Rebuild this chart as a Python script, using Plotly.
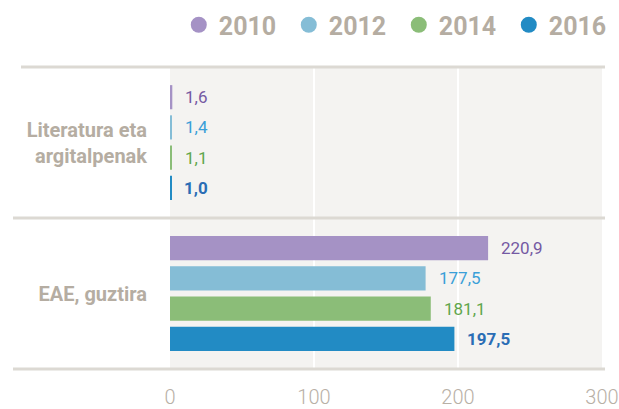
import plotly.graph_objects as go

# Data
categories = ["Literatura eta<br>argitalpenak", "EAE, guztira"]
years = ["2010", "2012", "2014", "2016"]
values = {
    "2010": [1.6, 220.9],
    "2012": [1.4, 177.5],
    "2014": [1.1, 181.1],
    "2016": [1.0, 197.5],
}
x_ticks = [0, 100, 200, 300]

# Styling
bar_colors = {"2010": "#a592c5", "2012": "#85bdd6", "2014": "#8bbd78", "2016": "#228bc4"}
label_colors = {"2010": "#7459a3", "2012": "#3a9fd8", "2014": "#5fa64b", "2016": "#2a6db5"}
grey_text = "#b5ada2"
rule_color = "#dcd9d3"
FONT = "Roboto, sans-serif"

W, H = 619, 409
M_L, M_R, M_T, M_B = 170, 17, 67, 40
plot_w = W - M_L - M_R
plot_h = H - M_T - M_B


def fmt(v):
    return f"{v:.1f}".replace(".", ",")


fig = go.Figure()

for yr in years:
    fig.add_trace(go.Bar(
        y=categories,
        x=values[yr],
        orientation="h",
        name=yr,
        marker=dict(color=bar_colors[yr], line=dict(width=0)),
        showlegend=False,
        hoverinfo="skip",
    ))
    # legend entry with a round marker
    fig.add_trace(go.Scatter(
        x=[None], y=[None], mode="markers", name=yr,
        marker=dict(symbol="circle", size=16, color=bar_colors[yr]),
        showlegend=True,
    ))

# value labels next to each bar end
n = len(years)
for j, yr in enumerate(years):
    for i, cat in enumerate(categories):
        v = values[yr][i]
        fig.add_annotation(
            x=v, y=cat, xref="x", yref="y",
            text=f"<b>{fmt(v)}</b>" if yr == "2016" else fmt(v),
            showarrow=False, xanchor="left", yanchor="middle",
            xshift=11,
            yshift=-((j - (n - 1) / 2) * 30.2),
            font=dict(family=FONT, size=17, color=label_colors[yr]),
        )

# horizontal rules separating the categories
x_end = 1 + 3 / plot_w
for x0, y in [(-(M_L - 21) / plot_w, 1), (-(M_L - 13) / plot_w, 0.5), (-(M_L - 13) / plot_w, 0)]:
    fig.add_shape(type="line", xref="paper", yref="paper", x0=x0, x1=x_end, y0=y, y1=y,
                  line=dict(color=rule_color, width=3), layer="above")

fig.update_layout(
    width=W, height=H,
    margin=dict(l=M_L, r=M_R, t=M_T, b=M_B, autoexpand=False),
    paper_bgcolor="white",
    plot_bgcolor="#f4f3f1",
    barmode="group",
    bargap=0.2,
    bargroupgap=0.2,
    font=dict(family=FONT, color=grey_text),
    legend=dict(
        orientation="h", x=-0.0005, xanchor="left",
        y=1 + (M_T - 25) / plot_h, yanchor="middle",
        xref="paper", yref="paper",
        font=dict(family=FONT, size=25, color=grey_text, weight="bold"),
        itemwidth=30, tracegroupgap=0, indentation=9,
        entrywidth=56, entrywidthmode="pixels",
        bgcolor="rgba(0,0,0,0)",
    ),
    xaxis=dict(
        range=[0, 300], tickvals=x_ticks, ticktext=[str(t) for t in x_ticks],
        showgrid=True, gridcolor="white", gridwidth=2,
        zeroline=False, showline=False, ticks="",
        tickfont=dict(family=FONT, size=20, color="#b8b0a6", weight=300),
        ticklabelstandoff=14, ticklabeloverflow="allow",
        automargin=False, fixedrange=True,
    ),
    yaxis=dict(
        autorange="reversed", showgrid=False, zeroline=False, showline=False, ticks="",
        tickfont=dict(family=FONT, size=20, color=grey_text, weight="bold"),
        ticklabelstandoff=22, automargin=False, fixedrange=True,
    ),
)

fig.write_html("out.html")
